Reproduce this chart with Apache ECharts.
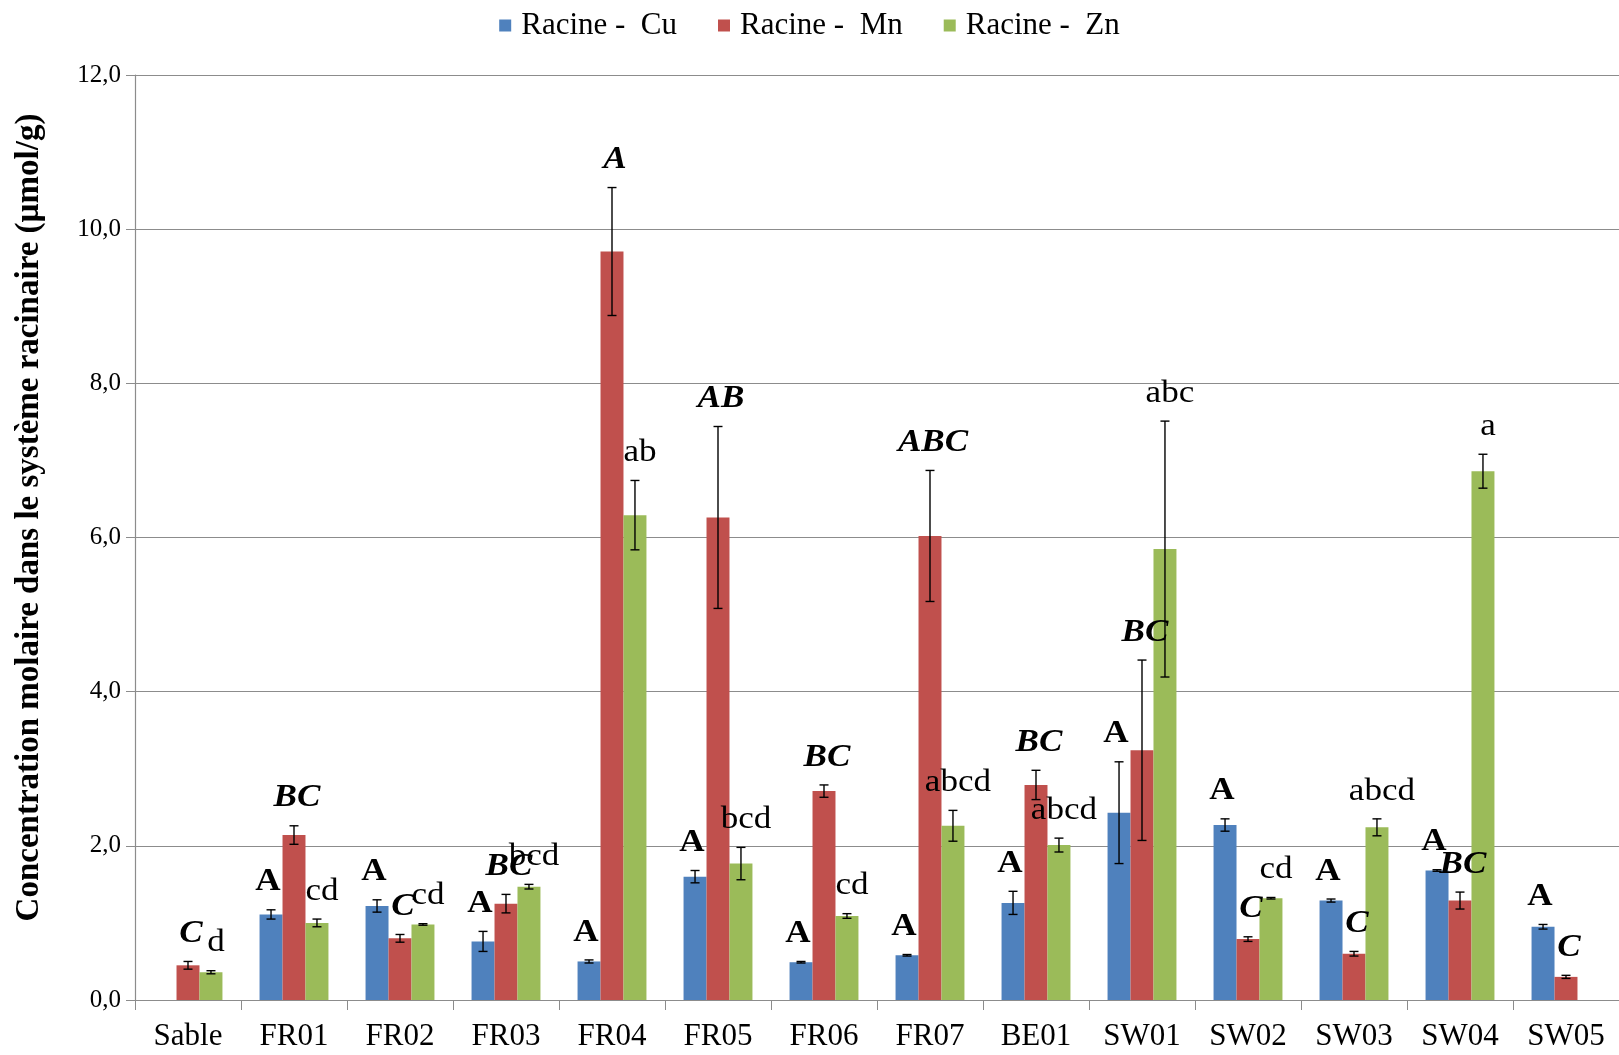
<!DOCTYPE html>
<html>
<head>
<meta charset="utf-8">
<script src="https://cdn.jsdelivr.net/npm/echarts@6/dist/echarts.min.js"></script>
<style>
html,body{margin:0;padding:0;background:#fff;}
#chart{width:1619px;height:1055px;}
</style>
</head>
<body>
<div id="chart"></div>
<script>
const categories = ['Sable','FR01','FR02','FR03','FR04','FR05','FR06','FR07','BE01','SW01','SW02','SW03','SW04','SW05'];
const seriesNames = ['Racine -  Cu','Racine -  Mn','Racine -  Zn'];
const cu    = [null,1.11,1.22,0.76,0.50,1.60,0.49,0.58,1.26,2.43,2.27,1.29,1.68,0.95];
const cuErr = [null,0.06,0.08,0.13,0.02,0.08,0.01,0.01,0.15,0.66,0.08,0.02,0.01,0.03];
const mn    = [0.45,2.14,0.80,1.25,9.71,6.26,2.71,6.02,2.79,3.24,0.79,0.60,1.29,0.30];
const mnErr = [0.05,0.12,0.05,0.12,0.83,1.18,0.08,0.85,0.19,1.17,0.03,0.03,0.11,0.02];
const zn    = [0.36,1.00,0.98,1.47,6.29,1.77,1.09,2.26,2.01,5.85,1.32,2.24,6.86,null];
const znErr = [0.02,0.05,0.01,0.03,0.45,0.21,0.03,0.20,0.09,1.66,0.01,0.11,0.22,null];
const cuLabels = ['','A','A','A','A','A','A','A','A','A','A','A','A','A'];
const mnLabels = ['C','BC','C','BC','A','AB','BC','ABC','BC','BC','C','C','BC','C'];
const znLabels = ['d','cd','cd','bcd','ab','bcd','cd','abcd','abcd','abc','cd','abcd','a',''];
const yTicks = [0,2,4,6,8,10,12];

const colors = ['#4F81BD','#C0504D','#9BBB59'];
const GAP = 0.35;
const SERIF = '"Liberation Serif","Times New Roman",serif';

function makeErr(idx, vals, errs, labels, fontSpec, dx) {
  return {
    type: 'custom',
    name: seriesNames[idx] + ' err',
    z: 10,
    silent: true,
    data: vals.map((v, i) => [i, v == null ? NaN : v, errs[i] == null ? 0 : errs[i]]),
    renderItem: function (params, api) {
      const i = api.value(0), v = api.value(1), e = api.value(2);
      if (isNaN(v)) return null;
      const bw = api.size([1, 0])[0];
      const barW = bw * (1 - GAP) / 3;
      const c = api.coord([i, v]);
      const x = c[0] + (idx - 1) * barW;
      const yt = api.coord([i, v + e])[1];
      const yb = api.coord([i, v - e])[1];
      const cap = 4.5;
      const ls = { stroke: '#000', lineWidth: 1.4 };
      const children = [
        { type: 'line', shape: { x1: x, y1: yt, x2: x, y2: yb }, style: ls },
        { type: 'line', shape: { x1: x - cap, y1: yt, x2: x + cap, y2: yt }, style: ls },
        { type: 'line', shape: { x1: x - cap, y1: yb, x2: x + cap, y2: yb }, style: ls }
      ];
      const lab = labels[params.dataIndex];
      if (lab) {
        children.push({
          type: 'text',
          x: x + dx, y: yt - 12,
          scaleX: 1.17, scaleY: 1.02,
          style: {
            text: lab, x: 0, y: 0,
            align: 'center', verticalAlign: 'bottom',
            font: fontSpec, fill: '#000'
          }
        });
      }
      return { type: 'group', children: children };
    }
  };
}

const chart = echarts.init(document.getElementById('chart'), null, { renderer: 'canvas' });
chart.setOption({
  animation: false,
  backgroundColor: '#fff',
  color: colors,
  legend: {
    data: seriesNames,
    top: 5,
    left: 'center',
    icon: 'rect',
    itemWidth: 12,
    itemHeight: 12,
    itemGap: 41,
    textStyle: { fontFamily: SERIF, fontSize: 31, color: '#000', padding: [0, 0, 0, 5] }
  },
  grid: { left: 135, right: 0, top: 75, bottom: 55, containLabel: false },
  xAxis: {
    type: 'category',
    data: categories,
    boundaryGap: true,
    axisLine: { lineStyle: { color: '#8c8c8c', width: 1.2 } },
    axisTick: { show: true, length: 10, lineStyle: { color: '#8c8c8c' } },
    axisLabel: { fontFamily: SERIF, fontSize: 31, color: '#000', margin: 21 }
  },
  yAxis: {
    type: 'value',
    min: 0, max: 12, interval: 2,
    name: 'Concentration molaire dans le système racinaire (µmol/g)',
    nameLocation: 'middle',
    nameGap: 89,
    nameTextStyle: { fontFamily: SERIF, fontSize: 33, fontWeight: 'bold', color: '#000', padding: [0, 0, 0, 40] },
    axisLine: { show: true, lineStyle: { color: '#8c8c8c', width: 1.2 } },
    axisTick: { show: true, length: 9, lineStyle: { color: '#8c8c8c' } },
    splitLine: { lineStyle: { color: '#8c8c8c', width: 1 } },
    axisLabel: {
      fontFamily: SERIF, fontSize: 25, color: '#000', margin: 14,
      formatter: v => yTicks.indexOf(v) >= 0 ? v.toFixed(1).replace('.', ',') : ''
    }
  },
  series: [
    { type: 'bar', name: seriesNames[0], data: cu, barGap: '0%', barCategoryGap: (GAP * 100) + '%', itemStyle: { color: colors[0] } },
    { type: 'bar', name: seriesNames[1], data: mn, barGap: '0%', barCategoryGap: (GAP * 100) + '%', itemStyle: { color: colors[1] } },
    { type: 'bar', name: seriesNames[2], data: zn, barGap: '0%', barCategoryGap: (GAP * 100) + '%', itemStyle: { color: colors[2] } },
    makeErr(0, cu, cuErr, cuLabels, 'bold 30px ' + SERIF, -3),
    makeErr(1, mn, mnErr, mnLabels, 'italic bold 30px ' + SERIF, 3),
    makeErr(2, zn, znErr, znLabels, '30px ' + SERIF, 5)
  ]
});
</script>
</body>
</html>
